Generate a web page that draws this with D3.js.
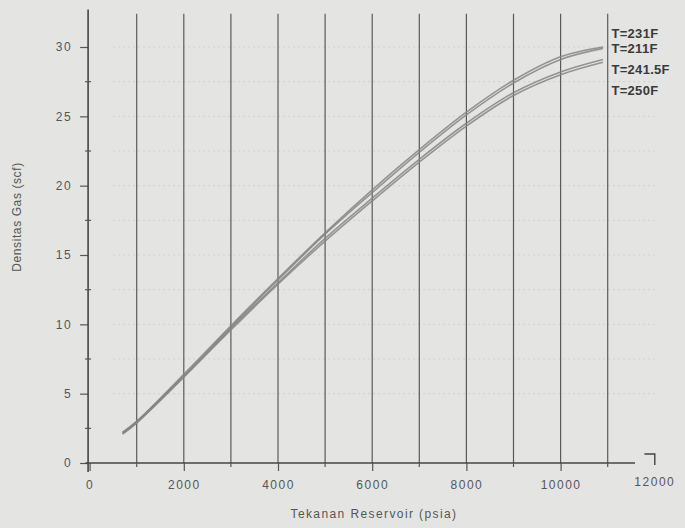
<!DOCTYPE html>
<html>
<head>
<meta charset="utf-8">
<script src="https://cdn.jsdelivr.net/npm/d3@7"></script>
<style>
  body { margin: 0; background: #e4e5e3; }
  svg { display: block; font-family: "Liberation Sans", Arial, sans-serif; }
</style>
</head>
<body>
<svg width="685" height="528"></svg>
<script>
// pressures (psia) and gas density for each temperature
const pressure = [700, 1000, 2000, 3000, 4000, 5000, 6000, 7000, 8000, 9000, 10000, 10900]
const t211 = [2.2, 3.0, 6.4, 9.9, 13.3, 16.6, 19.7, 22.6, 25.3, 27.6, 29.3, 30.0]
const t231 = [2.2, 3.0, 6.3, 9.8, 13.2, 16.5, 19.5, 22.4, 25.1, 27.4, 29.1, 29.9]
const t2415 = [2.1, 2.9, 6.2, 9.7, 13.0, 16.2, 19.1, 21.9, 24.5, 26.7, 28.2, 29.1]
const t250 = [2.1, 2.9, 6.2, 9.6, 12.9, 16.0, 18.9, 21.7, 24.3, 26.5, 28.0, 28.9]
const seriesLabels = ['T=231F', 'T=211F', 'T=241.5F', 'T=250F']
const labelAnchors = [31.0, 29.9, 28.4, 26.9]
const xTicks = [0, 2000, 4000, 6000, 8000, 10000, 12000]
const xGrid = [1000, 2000, 3000, 4000, 5000, 6000, 7000, 8000, 9000, 10000, 11000]
const yTicks = [0, 5, 10, 15, 20, 25, 30]
const yMinor = [2.5, 7.5, 12.5, 17.5, 22.5, 27.5]

const svg = d3.select('svg')
const x = d3.scaleLinear().domain([0, 12000]).range([89.6, 654.8])
const y = d3.scaleLinear().domain([0, 30]).range([463, 47])

// faint dotted lines (show-through on the page)
svg.selectAll('.faint')
    .data(d3.range(5, 32.5, 2.5))
    .enter()
    .append('line')
    .attr('x1', x(500)).attr('x2', x(12000))
    .attr('y1', d => y(d)).attr('y2', d => y(d))
    .attr('stroke', '#d2d2d0')
    .attr('stroke-width', 1.2)
    .attr('stroke-dasharray', '2,3')

// vertical grid
svg.selectAll('.vgrid')
    .data(xGrid)
    .enter()
    .append('line')
    .attr('x1', d => x(d)).attr('x2', d => x(d))
    .attr('y1', y(32.4)).attr('y2', y(0))
    .attr('stroke', '#5a5a5a')
    .attr('stroke-width', 1.2)

// curves
const line = d3.line()
    .x(d => x(d[0]))
    .y(d => y(d[1]))
    .curve(d3.curveCatmullRom.alpha(0.5))
const series = [t211, t231, t2415, t250]
series.forEach(vals => {
    svg.append('path')
        .datum(pressure.map((p, i) => [p, vals[i]]))
        .attr('d', line)
        .attr('fill', 'none')
        .attr('stroke', '#858585')
        .attr('stroke-width', 1.6)
        .attr('opacity', 0.85)
})

// y axis
const yAxis = svg.append('g')
    .attr('transform', `translate(${x(0) - 1.5},0)`)
    .call(d3.axisLeft(y).tickValues(yTicks).tickSize(8).tickSizeOuter(0).tickPadding(8))
yAxis.select('.domain').remove()
yAxis.append('line')
    .attr('x1', 0).attr('x2', 0)
    .attr('y1', y(32.7)).attr('y2', y(0) + 9)
    .attr('stroke', '#444').attr('stroke-width', 1.6)
yAxis.selectAll('.tick line').attr('stroke', '#555').attr('stroke-width', 1.2)
yAxis.selectAll('.tick text')
    .attr('fill', '#555')
    .style('font-size', '12px')
    .style('letter-spacing', '1.5px')
yAxis.selectAll('.minor')
    .data(yMinor)
    .enter()
    .append('line')
    .attr('x1', -3).attr('x2', 3)
    .attr('y1', d => y(d)).attr('y2', d => y(d))
    .attr('stroke', '#555').attr('stroke-width', 1.2)

// x axis
const xAxis = svg.append('g')
    .attr('transform', `translate(0,${y(0)})`)
    .call(d3.axisBottom(x).tickValues(xTicks.slice(0, 6)).tickFormat(d3.format('d'))
        .tickSize(8).tickSizeOuter(0).tickPadding(9))
xAxis.select('.domain').remove()
xAxis.append('line')
    .attr('x1', x(0) - 4).attr('x2', x(11580))
    .attr('y1', 0).attr('y2', 0)
    .attr('stroke', '#444').attr('stroke-width', 1.6)
xAxis.append('path')
    .attr('d', `M${x(11780)},-9H${x(12000)}V2`)
    .attr('fill', 'none')
    .attr('stroke', '#444').attr('stroke-width', 1.4)
xAxis.append('text')
    .attr('x', x(12000)).attr('y', 23)
    .attr('text-anchor', 'middle')
    .attr('fill', '#555')
    .style('font-size', '12px')
    .style('letter-spacing', '1.5px')
    .text(xTicks[6])
xAxis.selectAll('.tick line').attr('stroke', '#555').attr('stroke-width', 1.2)
xAxis.selectAll('.tick text')
    .attr('fill', '#555')
    .style('font-size', '12px')
    .style('letter-spacing', '1.5px')
xAxis.selectAll('.minor')
    .data([1000, 3000, 5000, 7000, 9000, 11000])
    .enter()
    .append('line')
    .attr('x1', d => x(d)).attr('x2', d => x(d))
    .attr('y1', 0).attr('y2', 4)
    .attr('stroke', '#555').attr('stroke-width', 1.2)

// axis titles
svg.append('text')
    .attr('x', 374).attr('y', 518)
    .attr('text-anchor', 'middle')
    .attr('fill', '#555')
    .style('font-size', '12px')
    .style('letter-spacing', '1.4px')
    .text('Tekanan Reservoir (psia)')
svg.append('text')
    .attr('transform', 'translate(21,217) rotate(-90)')
    .attr('text-anchor', 'middle')
    .attr('fill', '#555')
    .style('font-size', '12px')
    .style('letter-spacing', '0.6px')
    .text('Densitas Gas (scf)')

// series labels
svg.selectAll('.lbl')
    .data(seriesLabels)
    .enter()
    .append('text')
    .attr('x', x(11080))
    .attr('y', (d, i) => y(labelAnchors[i]) + 5)
    .attr('fill', '#3a3a3a')
    .style('font-size', '13px')
    .style('font-weight', 'bold')
    .style('letter-spacing', '0.3px')
    .text(d => d)
</script>
</body>
</html>
